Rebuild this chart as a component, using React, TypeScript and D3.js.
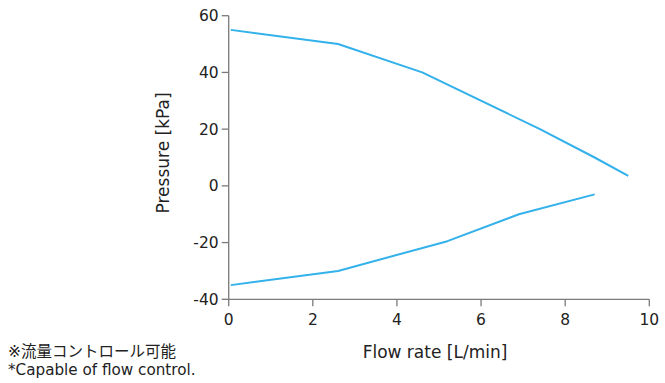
import React from "react";
import * as d3 from "d3";

const upperX = [0.05, 2.6, 4.6, 7.4, 8.7, 9.5];
const upperY = [55, 50, 40, 20, 10, 3.5];
const lowerX = [0.05, 2.6, 5.2, 6.9, 8.7];
const lowerY = [-35, -30, -19.5, -10, -3];
const xTicks = [0, 2, 4, 6, 8, 10];
const yTicks = [-40, -20, 0, 20, 40, 60];
const xLabel = "Flow rate [L/min]";
const yLabel = "Pressure [kPa]";
const note1 = "※流量コントロール可能";
const note2 = "*Capable of flow control.";

const W = 665;
const H = 383;
const font = "'DejaVu Sans', 'Noto Sans CJK JP', sans-serif";

export default function App() {
  const x = d3.scaleLinear().domain([0, 10]).range([228.7, 649.3]);
  const y = d3.scaleLinear().domain([-40, 60]).range([299.3, 15.7]);
  const line = d3
    .line<[number, number]>()
    .x((d) => x(d[0]))
    .y((d) => y(d[1]))
    .curve(d3.curveLinear);
  const up: [number, number][] = upperX.map((v, i) => [v, upperY[i]]);
  const lo: [number, number][] = lowerX.map((v, i) => [v, lowerY[i]]);
  const axisColor = "#7a7a7a";
  const textColor = "#222";
  return (
    <svg
      width={W}
      height={H}
      style={{ position: "absolute", left: 0, top: 0, background: "#fff" }}
      fontFamily={font}
    >
      <line x1={x(0)} x2={x(0)} y1={y(60)} y2={y(-40)} stroke={axisColor} strokeWidth={1.3} />
      <line x1={x(0)} x2={x(10)} y1={y(-40)} y2={y(-40)} stroke={axisColor} strokeWidth={1.3} />
      {yTicks.map((t) => (
        <g key={"y" + t}>
          <line x1={x(0) - 7} x2={x(0)} y1={y(t)} y2={y(t)} stroke={axisColor} strokeWidth={1.3} />
          <text x={x(0) - 10} y={y(t)} dy="0.36em" textAnchor="end" fontSize={15.5} fill={textColor}>
            {t}
          </text>
        </g>
      ))}
      {xTicks.map((t) => (
        <g key={"x" + t}>
          <line x1={x(t)} x2={x(t)} y1={y(-40)} y2={y(-40) + 7} stroke={axisColor} strokeWidth={1.3} />
          <text x={x(t)} y={325} textAnchor="middle" fontSize={15.5} fill={textColor}>
            {t}
          </text>
        </g>
      ))}
      <path d={line(up) || ""} fill="none" stroke="#33b1ea" strokeWidth={2} strokeLinejoin="round" />
      <path d={line(lo) || ""} fill="none" stroke="#33b1ea" strokeWidth={2} strokeLinejoin="round" />
      <text x={435} y={358} textAnchor="middle" fontSize={17} fill={textColor}>
        {xLabel}
      </text>
      <text
        transform={`translate(169,153) rotate(-90)`}
        textAnchor="middle"
        fontSize={17}
        fill={textColor}
      >
        {yLabel}
      </text>
      <text x={8} y={357} fontSize={15.5} fill={textColor}>
        {note1}
      </text>
      <text x={8} y={375} fontSize={15.2} fill={textColor}>
        {note2}
      </text>
    </svg>
  );
}
